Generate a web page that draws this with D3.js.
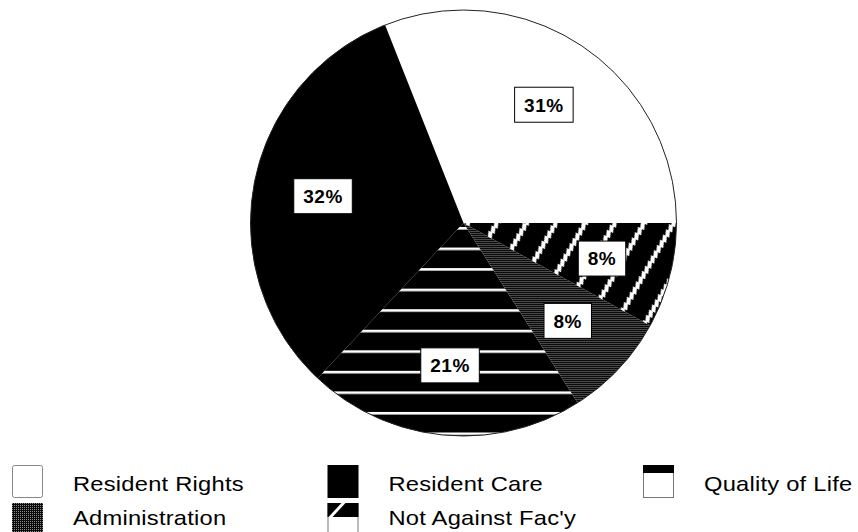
<!DOCTYPE html>
<html>
<head>
<meta charset="utf-8">
<script src="https://cdn.jsdelivr.net/npm/d3@7"></script>
<style>
  body { margin: 0; background: #fff; }
  svg { display: block; }
  .lbl { font-family: "Liberation Sans", Arial, sans-serif; font-weight: bold; font-size: 19px; letter-spacing: 0.5px; }
  .leg { font-family: "Liberation Sans", Arial, sans-serif; font-size: 21px; letter-spacing: 0.2px; }
</style>
</head>
<body>
<div id="chartDiv"></div>
<script>
// data, in drawing order (counter-clockwise from 3 o'clock)
let categories = ['Resident Rights', 'Resident Care', 'Quality of Life', 'Administration', "Not Against Fac'y"];
let values = [31, 32, 21, 8, 8];
let labels = ['31%', '32%', '21%', '8%', '8%'];
let fills = ['#ffffff', '#000000', 'url(#stripesH)', 'url(#dither)', 'url(#stripesD)'];

let width = 858, height = 532;
let cx = 463.5, cy = 223, radius = 213;

let svg = d3.select('#chartDiv')
    .append('svg')
    .attr('width', width)
    .attr('height', height);

let defs = svg.append('defs');

// horizontal white lines on black (Quality of Life)
let pH = defs.append('pattern')
    .attr('id', 'stripesH')
    .attr('patternUnits', 'userSpaceOnUse')
    .attr('width', 20).attr('height', 20.55)
    .attr('y', 4);
pH.append('rect').attr('width', 20).attr('height', 20.55).attr('fill', '#000');
pH.append('rect').attr('y', 0).attr('width', 20).attr('height', 2.6).attr('fill', '#fff');

// diagonal jagged white stripes on black (Not Against Fac'y)
let pD = defs.append('pattern')
    .attr('id', 'stripesD')
    .attr('patternUnits', 'userSpaceOnUse')
    .attr('width', 25.5).attr('height', 6)
    .attr('patternTransform', 'rotate(30)');
pD.append('rect').attr('width', 25.5).attr('height', 6).attr('fill', '#000');
pD.append('polygon').attr('points', '0,0 4.5,0 7,6 2.5,6').attr('fill', '#fff');

// fine dither (Administration)
let pA = defs.append('pattern')
    .attr('id', 'dither')
    .attr('patternUnits', 'userSpaceOnUse')
    .attr('width', 2).attr('height', 2);
pA.append('rect').attr('width', 2).attr('height', 2).attr('fill', '#0a0a0a');
pA.append('rect').attr('width', 1).attr('height', 1).attr('fill', '#8a8a8a');

let pie = d3.pie()
    .sort(null)
    .value(function(d) {return d})
    .startAngle(Math.PI / 2)
    .endAngle(Math.PI / 2 - 2 * Math.PI);

let arc = d3.arc().innerRadius(0).outerRadius(radius);
let labelArc = d3.arc().innerRadius(143).outerRadius(143);

let g = svg.append('g')
    .attr('transform', 'translate(' + cx + ',' + cy + ')');

let arcs = pie(values);

g.selectAll('path.slice')
    .data(arcs)
    .enter()
    .append('path')
    .attr('class', 'slice')
    .attr('d', arc)
    .attr('fill', function(d, i) {return fills[i]});

g.append('circle')
    .attr('r', radius)
    .attr('fill', 'none')
    .attr('stroke', '#222')
    .attr('stroke-width', 1);

// percentage labels in boxes
let lab = g.selectAll('g.lab')
    .data(arcs)
    .enter()
    .append('g')
    .attr('class', 'lab')
    .attr('transform', function(d) {return 'translate(' + labelArc.centroid(d) + ')'});

lab.append('rect');
lab.append('text')
    .attr('class', 'lbl')
    .attr('text-anchor', 'middle')
    .attr('dy', '0.36em')
    .text(function(d, i) {return labels[i]});

lab.each(function() {
    let grp = d3.select(this);
    let bb = grp.select('text').node().getBBox();
    let w = bb.width + 19, h = 35;
    grp.select('rect')
        .attr('x', -w / 2).attr('y', -h / 2)
        .attr('width', w).attr('height', h)
        .attr('fill', '#fff')
        .attr('stroke', '#000')
        .attr('stroke-width', 1);
});

// legend
let colX = [12, 327.5, 643];
let rowY = [465, 503];
let textY = [26, 22];
let sw = 31, sh = 33;

let leg = svg.selectAll('g.legItem')
    .data(categories)
    .enter()
    .append('g')
    .attr('class', 'legItem')
    .attr('transform', function(d, i) {
        return 'translate(' + colX[i % 3] + ',' + rowY[Math.floor(i / 3)] + ')';
    });

leg.each(function(d, i) {
    let item = d3.select(this);
    let row = Math.floor(i / 3);
    if (i === 0) {
        item.append('rect').attr('x', 0.5).attr('y', 0.5).attr('width', sw - 1).attr('height', sh - 1)
            .attr('rx', 2).attr('fill', '#fff').attr('stroke', '#888');
    } else if (i === 1) {
        item.append('rect').attr('width', sw).attr('height', sh).attr('fill', '#000');
    } else if (i === 2) {
        item.append('rect').attr('x', 0.5).attr('y', 0.5).attr('width', sw - 1).attr('height', sh - 1)
            .attr('fill', '#fff').attr('stroke', '#777');
        item.append('rect').attr('width', sw).attr('height', 8).attr('fill', '#000');
    } else if (i === 3) {
        item.append('rect').attr('width', sw).attr('height', sh).attr('fill', 'url(#dither)');
    } else {
        item.append('rect').attr('x', 0.5).attr('y', 0.5).attr('width', sw - 1).attr('height', sh - 1)
            .attr('fill', '#fff').attr('stroke', '#777');
        item.append('rect').attr('width', sw).attr('height', 14).attr('fill', '#000');
        item.append('polygon').attr('points', '14,0 18,0 5,14 1,14').attr('fill', '#fff');
    }
    item.append('text')
        .attr('class', 'leg')
        .attr('transform', 'translate(61,' + textY[row] + ') scale(1.13,1)')
        .text(d);
});
</script>
</body>
</html>
